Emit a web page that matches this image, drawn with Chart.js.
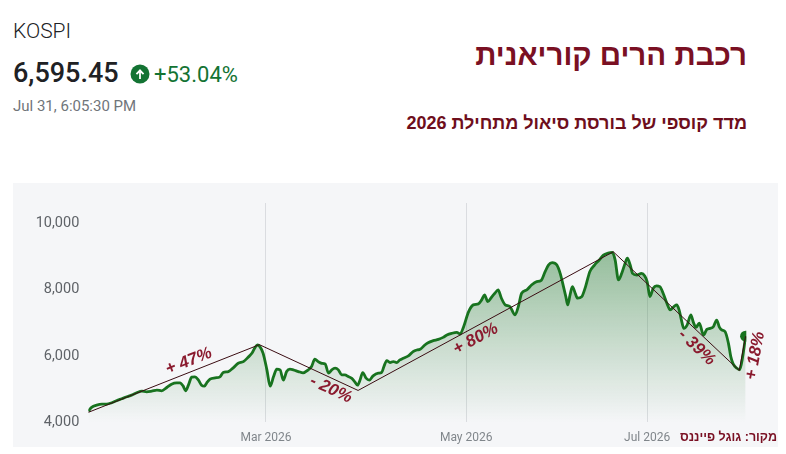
<!DOCTYPE html>
<html>
<head>
<meta charset="utf-8">
<script src="https://cdn.jsdelivr.net/npm/chart.js@4/dist/chart.umd.min.js"></script>
<style>
html,body{margin:0;padding:0;background:#fff;width:786px;height:454px;overflow:hidden;font-family:Roboto,"Noto Sans",sans-serif;}
.t{position:absolute;white-space:nowrap;line-height:1;}
#panel{position:absolute;left:13px;top:183px;width:765px;height:264px;background:#f5f6f8;}
#wrap{position:absolute;left:13px;top:183px;width:765px;height:264px;}
.he{font-family:"Liberation Sans","DejaVu Sans",Arial,sans-serif;font-weight:bold;color:#7a1023;direction:rtl;}
</style>
</head>
<body>
<div class="t" style="left:13px;top:21px;font-size:21px;font-weight:300;color:#202124;">KOSPI</div>
<div class="t" style="left:13px;top:60px;font-size:27px;font-weight:500;color:#202124;">6,595.45</div>
<svg style="position:absolute;left:130px;top:64px" width="20" height="20" viewBox="0 0 20 20">
  <circle cx="10" cy="10" r="9.5" fill="#137333"/>
  <path d="M10 5 L14.2 9.4 L12.9 10.7 L10.9 8.7 L10.9 15 L9.1 15 L9.1 8.7 L7.1 10.7 L5.8 9.4 Z" fill="#fff"/>
</svg>
<div class="t" style="left:154px;top:64px;font-size:22px;color:#137333;">+53.04%</div>
<div class="t" style="left:13px;top:99px;font-size:15px;color:#70757a;">Jul 31, 6:05:30 PM</div>

<div class="t he" style="right:39px;top:40px;font-size:29.5px;">רכבת הרים קוריאנית</div>
<div class="t he" style="right:39px;top:114px;font-size:18px;color:#6e0e1c;">מדד קוספי של בורסת סיאול מתחילת 2026</div>

<div id="panel"></div>
<div id="wrap"><canvas id="c"></canvas></div>
<div class="t he" style="right:9px;top:431px;font-size:12.5px;">מקור: גוגל פייננס</div>

<script>
// ---- data (x = trading-session index since Jan 2 2026) ----
const sessionIdx = [
  0.0,0.7,1.8,2.9,3.9,5.0,6.0,7.1,8.2,9.2,10.3,11.4,12.4,13.5,14.6,15.6,16.7,17.7,18.8,19.5,
  20.2,20.7,21.3,22.0,22.7,23.4,24.1,24.7,25.2,25.9,27.0,28.0,28.7,29.8,30.9,31.9,33.0,34.0,34.8,35.5,
  36.0,36.5,37.2,38.0,38.7,39.4,40.1,40.8,41.5,42.2,42.9,43.6,44.7,45.7,46.8,47.5,48.2,48.9,49.6,50.4,
  51.1,51.8,52.5,53.2,53.9,54.6,55.3,56.0,56.7,57.3,57.8,58.4,59.1,59.8,60.6,61.7,62.4,62.9,63.5,64.2,
  64.9,65.6,66.3,67.0,68.1,69.1,69.9,70.6,71.6,72.3,73.4,74.5,75.5,76.3,77.3,78.4,79.1,79.8,80.9,81.9,
  83.0,83.7,84.3,85.0,85.9,86.5,87.2,87.9,88.7,89.7,90.8,91.5,92.2,93.3,94.3,95.4,96.3,97.2,97.9,98.7,
  99.7,100.4,101.1,101.6,102.0,102.5,103.0,103.6,104.1,105.0,105.8,106.7,107.7,108.7,109.6,110.6,111.5,112.1,112.8,113.5,
  114.2,114.7,115.3,115.8,116.7,117.7,118.4,118.9,119.5,120.2,120.9,121.6,122.3,123.1,123.8,124.6,125.2,125.7,126.2,126.7,
  127.4,128.2,128.7,129.3,130.0,130.9,131.6,132.3,133.0,133.7,134.3,134.8,135.5,136.2,136.7,137.2,138.0,138.6,139.2,139.85
];
const kospiClose = [
  4330,4450,4520,4550,4550,4590,4650,4710,4770,4820,4890,4940,4920,4940,4970,4950,5050,5150,5190,5190,
  5090,4950,5120,5360,5370,5280,5120,5090,5190,5300,5340,5370,5500,5530,5650,5780,5830,5960,6080,6260,
  6330,6280,6080,5580,5090,5370,5600,5580,5270,5530,5600,5580,5530,5490,5580,5680,5900,5830,5780,5760,
  5480,5580,5630,5580,5430,5430,5380,5330,5220,5120,5270,5500,5330,5270,5400,5480,5500,5680,5860,5800,
  5830,5800,5880,5930,6000,6130,6180,6200,6330,6400,6460,6500,6560,6630,6680,6710,6660,6860,7330,7540,
  7570,7690,7840,7640,7790,7890,7990,7740,7540,7490,7240,7490,7890,7990,8140,8240,8270,8540,8740,8810,
  8740,8490,8090,7790,7540,7840,8090,7890,7740,7790,8090,8540,8740,8890,9040,9100,9120,8890,8290,8490,
  8790,8950,8740,8490,8440,8490,8410,8240,7790,8040,8110,8090,7890,7590,7390,7490,7540,7390,7080,6830,
  6930,7240,7030,6860,6990,6630,6800,6830,6880,7080,6860,6780,6730,6380,5980,5760,5630,5590,5950,6595.45
];
const swingIdx    = [0, 36.4, 57.4, 111.7, 138.5, 139.85];
const swingValues = [4300, 6340, 4960, 9140, 5560, 6595.45];
const swingLabels = ['+ 47%', '- 20%', '+ 80%', '- 39%', '+ 18%'];
const monthTickIdx    = [37.8, 80.4, 118.9];
const monthTickLabels = ['Mar 2026', 'May 2026', 'Jul 2026'];
const valueTicks = [4000, 6000, 8000, 10000];

// ---- styling for swing labels: position along segment + perpendicular offset (px) ----
const labelPlace = [{t:0.61, off:-10.5}, {t:0.77, off:10.5}, {t:0.44, off:11}, {t:0.73, off:12.5}, {t:0.5, off:13}];

const swingLabelPlugin = {
  id: 'swingLabels',
  afterDatasetsDraw(chart) {
    const {ctx, scales:{x, y}} = chart;
    ctx.save();
    ctx.font = 'italic bold 17px "Liberation Sans", Arial, sans-serif';
    ctx.fillStyle = '#8a1a2e';
    ctx.textAlign = 'center';
    ctx.textBaseline = 'middle';
    for (let i = 0; i < swingLabels.length; i++) {
      const x0 = x.getPixelForValue(swingIdx[i]),   y0 = y.getPixelForValue(swingValues[i]);
      const x1 = x.getPixelForValue(swingIdx[i+1]), y1 = y.getPixelForValue(swingValues[i+1]);
      const ang = Math.atan2(y1 - y0, x1 - x0);
      const p = labelPlace[i];
      const px = x0 + (x1 - x0) * p.t - Math.sin(ang) * p.off;
      const py = y0 + (y1 - y0) * p.t + Math.cos(ang) * p.off;
      ctx.save();
      ctx.translate(px, py);
      ctx.rotate(ang);
      ctx.fillText(swingLabels[i], 0, 0);
      ctx.restore();
    }
    ctx.restore();
  }
};

const lastIndex = kospiClose.length - 1;

new Chart(document.getElementById('c'), {
  type: 'line',
  data: {
    datasets: [
      {
        label: 'swings',
        data: swingIdx.map((v, i) => ({x: v, y: swingValues[i]})),
        borderColor: '#3a0c12',
        borderWidth: 1,
        pointRadius: 0,
        fill: false,
        tension: 0,
        order: 0
      },
      {
        label: 'KOSPI',
        data: sessionIdx.map((v, i) => ({x: v, y: kospiClose[i]})),
        borderColor: '#18731f',
        borderWidth: 2.8,
        cubicInterpolationMode: 'monotone',
        pointRadius: ctx => ctx.dataIndex === lastIndex ? 5.5 : 0,
        pointBackgroundColor: '#18731f',
        pointBorderWidth: 0,
        fill: 'start',
        backgroundColor: ctx => {
          const area = ctx.chart.chartArea;
          if (!area) return 'rgba(0,0,0,0)';
          const g = ctx.chart.ctx.createLinearGradient(0, area.top, 0, area.bottom);
          g.addColorStop(0, 'rgba(40,125,50,0.6)');
          g.addColorStop(1, 'rgba(40,125,50,0.0)');
          return g;
        },
        order: 1
      }
    ]
  },
  options: {
    responsive: true,
    maintainAspectRatio: false,
    animation: false,
    layout: {padding: {left: 0, top: 20, right: 31.7, bottom: 0}},
    plugins: {legend: {display: false}, tooltip: {enabled: false}},
    scales: {
      x: {
        type: 'linear',
        min: 0,
        max: 140,
        afterBuildTicks: s => { s.ticks = monthTickIdx.map(v => ({value: v})); },
        afterFit: s => { s.height = 24.7; },
        grid: {display: true, color: '#dadce0', lineWidth: 1, drawTicks: false},
        border: {display: false},
        ticks: {
          padding: 8,
          color: '#80868b',
          font: {family: 'Roboto', size: 12},
          maxRotation: 0,
          autoSkip: false,
          callback: (v, i) => monthTickLabels[i]
        }
      },
      y: {
        type: 'linear',
        min: 4000,
        max: 10610,
        afterBuildTicks: s => { s.ticks = valueTicks.map(v => ({value: v})); },
        afterFit: s => { s.width = 75.3; },
        grid: {display: false, drawTicks: false},
        border: {display: false},
        ticks: {
          padding: 9,
          color: '#5f6368',
          font: {family: 'Roboto', size: 14.5},
          callback: v => v.toLocaleString('en-US')
        }
      }
    }
  },
  plugins: [swingLabelPlugin]
});
</script>
</body>
</html>
